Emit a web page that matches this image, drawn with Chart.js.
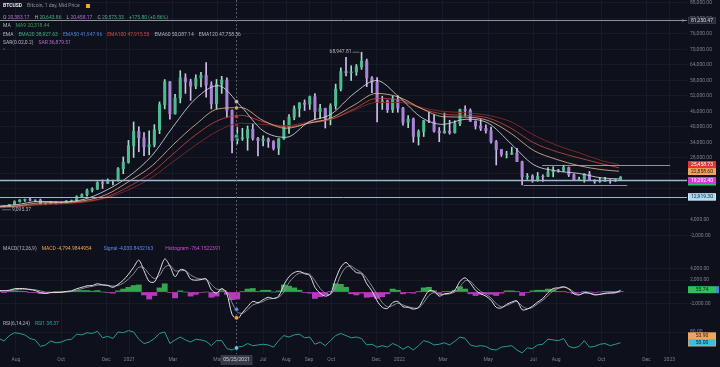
<!DOCTYPE html>
<html>
<head>
<meta charset="utf-8">
<script src="https://cdn.jsdelivr.net/npm/chart.js@4.4.0/dist/chart.umd.min.js"></script>
<style>
html,body{margin:0;padding:0;background:#0e101b;}
#wrap{position:relative;width:720px;height:367px;overflow:hidden;background:#0e101b;font-family:Roboto,"Noto Sans",sans-serif;}
canvas{position:absolute;left:0;}
.lg{position:absolute;left:3px;font-size:5px;line-height:6px;color:#b2b5be;white-space:nowrap;}
.lg span{margin-right:5px;}
.lg em{font-style:normal;}
.sq{display:inline-block;width:4px;height:4px;background:#f5a623;vertical-align:middle;margin-left:1px;}
</style>
</head>
<body>
<div id="wrap">
  <canvas id="cPrice" width="720" height="242" style="top:0"></canvas>
  <canvas id="cMacd" width="720" height="79" style="top:242px"></canvas>
  <canvas id="cRsi" width="720" height="46" style="top:321px"></canvas>

  <div class="lg" style="top:2px"><span style="color:#e6e8ee;font-weight:bold">BTCUSD</span><span style="color:#8d919c">Bitcoin, 1 day, Mid Price</span><i class="sq"></i></div>
  <div class="lg" style="top:14px"><span>O <em style="color:#b46ad8">20,383.17</em></span><span>H <em style="color:#3fb27f">20,643.86</em></span><span>L <em style="color:#b46ad8">20,458.17</em></span><span>C <em style="color:#3fb27f">20,573.33</em></span><span style="color:#3fb27f">+175.80 (+0.86%)</span></div>
  <div class="lg" style="top:22px"><span>MA</span><span style="color:#3a9a5c">MA9 20,318.44</span></div>
  <div class="lg" style="top:31px"><span>EMA</span><span style="color:#3fb27f">EMA20 38,927.63</span><span style="color:#4f7fd6">EMA50 41,947.96</span><span style="color:#d04a4a">EMA100 47,915.55</span><span>EMA60 50,087.14</span><span>EMA120 47,758.36</span></div>
  <div class="lg" style="top:39px"><span>SAR(0.02,0.2)</span><span style="color:#b46ad8">SAR 36,879.51</span></div>
  <div class="lg" style="top:47px;color:#6d717c">^</div>

  <div class="lg" style="top:245px"><span>MACD(12,26,9)</span><span style="color:#f0a050;margin-right:12px">MACD -4,794.9844954</span><span style="color:#5b8def;margin-right:12px">Signal -4,030.8432163</span><span style="color:#c94fd0">Histogram -764.1522391</span></div>
  <div class="lg" style="top:320px"><span>RSI(6,14,24)</span><span style="color:#29a59f">RSI1 38.37</span></div>
</div>

<script>
// ---- data (weekly candles, Monday starts) ----
const firstWeek = '2020-07-06';
const firstOpen = 9180;
const closes = [
  9240, 9160, 9930, 11060, 11680, 11910, 11650, 11700, 10250, 10330, 10920, 10770, 10670, 11380, 11500, 13030, 13780, 15480, 15960, 18400, 18180, 19150, 19260, 23850, 26300, 32800,
  38300, 35800, 32300, 33100, 38900, 48600, 57500, 45100, 51200, 59000, 57500, 55800, 58900, 60000, 56200, 49000, 56600, 58200, 46400, 34700, 35500, 35800, 39100, 35600, 34700, 35300, 34300, 31800, 35400, 39900, 43800, 47100, 49300, 48800, 51700, 46000, 47200, 43200, 48200, 54700, 61500, 61000, 61300, 63300, 65500, 59000, 57300, 49400, 50100, 46700, 50800, 47300,
  41800, 43100, 36300, 38200, 42400, 42200, 38400, 37700, 38400, 37800, 41300, 46800, 46400, 42200, 40400, 39500, 38500, 34300, 31300, 29400, 29500, 29900, 26600, 20600, 21000, 19300, 20900, 20800, 22600, 23300, 23200, 24300, 21500, 19600, 19800, 21800, 19400, 18900, 19000, 19400, 19200, 19600, 20573.33
];
const highs = [
  9440, 9380, 9960, 11420, 11900, 12080, 12480, 11800, 12090, 10590, 11170, 10980, 10950, 11500, 11730, 13350, 14100, 15960, 16480, 18800, 19480, 19900, 19420, 24300, 28400, 34800,
  41950, 40100, 37850, 38500, 40900, 49700, 58350, 57600, 52600, 61800, 60600, 58500, 60200, 61200, 64900, 57500, 58400, 59600, 59000, 46600, 40900, 39500, 40400, 41300, 36000, 36600, 35800, 34700, 35500, 42500, 44800, 48200, 49400, 50500, 52000, 52900, 48800, 47300, 49000, 56600, 62900, 67000, 63700, 64200, 68947.81, 66300, 59500, 59100, 51900, 50400, 52000, 52100,
  47600, 44400, 43500, 38900, 42600, 45800, 44800, 39800, 45400, 42600, 42400, 46900, 48200, 47000, 42400, 42900, 40800, 40000, 34800, 31300, 30600, 32200, 31700, 26800, 22000, 21500, 22400, 21500, 24300, 24600, 23600, 25200, 24500, 21900, 20600, 21900, 22800, 19600, 20400, 20500, 19700, 19700, 20800
];
const lows = [
  9095.37, 9120, 9160, 9900, 10950, 11140, 11390, 11120, 9960, 9880, 10200, 10140, 10370, 10530, 11200, 11420, 12980, 13200, 14810, 15800, 16200, 18100, 17600, 19000, 21900, 26000,
  28200, 30400, 28850, 29200, 32300, 37400, 47000, 43000, 45000, 49300, 53000, 50300, 54800, 55500, 51500, 47000, 47000, 53000, 43800, 30000, 33400, 34800, 31000, 34900, 28800, 32700, 32100, 31100, 29300, 35200, 37500, 42800, 43900, 46400, 46800, 42800, 43300, 39600, 40800, 46900, 54000, 59800, 58000, 60000, 62300, 55600, 53300, 42000, 46800, 45600, 45600, 45700,
  40700, 39700, 34100, 33000, 36300, 41700, 38000, 34300, 37600, 37200, 37600, 40500, 44200, 42100, 39200, 38600, 37600, 33700, 25300, 28600, 28000, 29300, 26600, 17600, 19700, 18600, 19000, 18900, 20800, 20700, 22500, 22700, 20800, 19500, 19500, 18600, 19300, 18200, 18500, 18900, 18200, 18900, 19200
];

// moving averages
const emaDates = ['2020-07-06','2020-08-01','2020-09-01','2020-10-01','2020-11-01','2020-12-01','2021-01-01','2021-02-01','2021-03-01','2021-04-01','2021-05-01','2021-06-01','2021-07-01','2021-08-01','2021-09-01','2021-10-01','2021-11-01','2021-12-01','2022-01-01','2022-02-01','2022-03-01','2022-04-01','2022-05-01','2022-06-01','2022-07-01','2022-08-01','2022-09-01','2022-10-01','2022-10-25'];
const ema50  = [9300, 9900, 11200, 11000, 12000, 15500, 21000, 29000, 40000, 51000, 56000, 48000, 38500, 36000, 42000, 45000, 53000, 58000, 51500, 43500, 41000, 43000, 41500, 33500, 25500, 23000, 22000, 20300, 19900];
const ema100 = [9100, 9400, 10600, 10800, 11500, 13800, 19000, 25000, 33000, 41000, 47000, 47500, 42500, 39500, 41500, 43500, 48500, 53000, 51500, 47000, 44000, 43800, 42500, 37500, 31000, 27500, 25000, 23500, 22858.6];
const ema150 = [8900, 9200, 10100, 10500, 11100, 12900, 17000, 22500, 29500, 37000, 42500, 44500, 42000, 40000, 41500, 43000, 47000, 51000, 50500, 47000, 45000, 44500, 43500, 39500, 34000, 30500, 28000, 25800, 24200];
const ema200 = [8700, 9000, 9800, 10200, 10900, 12500, 15800, 20500, 26500, 33000, 38500, 41500, 41000, 40500, 42000, 43000, 46500, 49500, 49500, 47500, 46000, 45500, 44500, 42000, 37000, 33000, 30000, 27000, 25458.73];

// MACD pane (weekly)
const macdLine = [
  250, 200, 300, 550, 600, 550, 400, 250, -100, -250, -100, -80, -50, 100, 200, 550, 800, 1050, 1100, 1400, 1200, 1100, 800, 1300, 2000, 3000,
  4200, 5400, 3600, 1800, 1700, 3500, 5600, 4400, 2600, 3800, 3600, 2200, 2000, 2100, 2200, 400, -200, 600, -300, -3800, -4600, -3500, -2500, -1600, -1800, -1300, -900, -1100, -700, 1200, 2600, 3300, 3500, 3100, 2800, 800, -200, -700, -300, 2200, 4200, 5000, 4100, 3300, 3100, 1400, 200, -1500, -2600, -2800, -1800, -1600,
  -2500, -2600, -2900, -2600, -1100, 200, 100, -700, -300, -200, 300, 1800, 2400, 1500, 300, -300, -700, -1400, -2600, -2700, -2100, -1700, -1500, -3000, -2900, -2400, -1700, -1100, -100, 600, 700, 900, 500, -300, -500, -100, -200, -500, -400, -200, -150, -100, 300
];
const signalLine = [
  200, 210, 240, 350, 450, 500, 460, 370, 180, -20, -100, -100, -80, 0, 100, 300, 550, 800, 950, 1150, 1200, 1150, 1000, 1100, 1500, 2200,
  3100, 4200, 4100, 3000, 2300, 2800, 4200, 4500, 3600, 3600, 3600, 2900, 2400, 2200, 2200, 1300, 500, 400, 100, -1800, -3400, -3600, -3000, -2200, -1900, -1600, -1200, -1100, -900, 0, 1600, 2600, 3200, 3200, 3000, 1900, 600, -200, -400, 800, 2900, 4200, 4400, 3800, 3300, 2300, 1000, -400, -1800, -2500, -2300, -1900,
  -2200, -2500, -2700, -2700, -1800, -600, -100, -400, -400, -300, 0, 900, 1900, 1800, 900, 100, -400, -1000, -2000, -2500, -2300, -1900, -1600, -2400, -2800, -2600, -2000, -1400, -600, 200, 600, 800, 600, 0, -400, -200, -200, -400, -400, -300, -200, -150, 50
];
const histogram = [
  50, -10, 60, 200, 150, 50, -60, -120, -280, -230, 0, 20, 30, 100, 100, 250, 250, 250, 150, 250, 0, -50, -200, 200, 500, 800,
  1100, 1200, -500, -1200, -600, 700, 1400, -100, -1000, 200, 0, -700, -400, -100, 0, -900, -700, 200, -400, -1300, -1200, 100, 500, 600, 100, 300, 300, 0, 200, 1200, 1000, 700, 300, -100, -200, -1100, -800, -500, 100, 1400, 1300, 800, -300, -500, -200, -900, -800, -1100, -800, -300, 500, 300,
  -300, -100, -200, 100, 700, 800, 200, -300, 100, 100, 300, 900, 500, -300, -600, -400, -300, -400, -600, -200, 200, 200, 100, -600, -100, 200, 300, 300, 500, 400, 100, 100, -100, -300, -100, 100, 0, -100, 0, 100, 50, 50, 55.74
];

// RSI pane (weekly)
const rsi = [
  62, 55, 70, 78, 76, 72, 62, 58, 40, 44, 55, 50, 52, 58, 60, 74, 72, 78, 76, 82, 64, 68, 62, 80, 78, 84,
  80, 60, 48, 52, 62, 76, 80, 48, 58, 66, 58, 52, 60, 58, 54, 42, 56, 56, 34, 30, 38, 40, 48, 42, 44, 46, 44, 38, 56, 70, 66, 72, 74, 64, 66, 46, 52, 42, 56, 70, 76, 70, 64, 66, 62, 44, 46, 38, 42, 38, 48, 42,
  32, 40, 30, 42, 56, 52, 44, 46, 50, 44, 54, 66, 62, 44, 40, 42, 40, 32, 30, 38, 40, 42, 30, 22, 36, 34, 44, 46, 60, 58, 56, 62, 40, 36, 40, 56, 38, 40, 46, 48, 42, 46, 50
];

// drawn levels and axis labels
const hLevels = [81250.47, 19470, 12919.30];
const hSegments = [
  {from: '2022-06-18', to: '2022-11-05', value: 17600},
  {from: '2022-07-13', to: '2023-01-02', value: 25200}
];
const priceTicks = [-2000, 4000, 10000, 16000, 22000, 28000, 34000, 40000, 46000, 52000, 58000, 64000, 70000, 76000, 82000, 88000];
const priceTicksHidden = [10000, 16000];
const macdTicks = [-2000, 0, 2000, 4000];
const rsiTicks = [80];
const tickDates = ['2020-08-01','2020-10-01','2020-12-01','2021-01-01','2021-03-01','2021-05-01','2021-07-01','2021-08-01','2021-09-01','2021-10-01','2021-12-01','2022-01-01','2022-03-01','2022-05-01','2022-07-01','2022-08-01','2022-10-01','2022-12-01','2023-01-01'];
const tickLabels = ['Aug','Oct','Dec','2021','Mar','May','Jul','Aug','Sep','Oct','Dec','2022','Mar','May','Jul','Aug','Oct','Dec','2023'];
const crossDate = '2021-05-25';
const crossLabel = '05/25/2021';

// ---- helpers ----
const FONT = 'Roboto, "Noto Sans", sans-serif';
const GRID = '#171a27';
const TXT = '#7c808b';
const UP = '#4dbb8f', DOWN = '#a983d6';
const UP_W = '#a4dcc6', DOWN_W = '#d2bdec';

const DAY0 = Date.UTC(2020, 7, 1);
function dayOf(s) {
  const p = s.split('-');
  return (Date.UTC(+p[0], p[1] - 1, +p[2]) - DAY0) / 86400000;
}
const X_MIN = -21.6, X_MAX = 906.8;
const weekX = closes.map((c, i) => dayOf(firstWeek) + 7 * i + 3);
const opens = closes.map((c, i) => i ? closes[i - 1] : firstOpen);
const emaX = emaDates.map(dayOf);
const crossDay = dayOf(crossDate);

function fmt2(v) {
  return v.toLocaleString('en-US', {minimumFractionDigits: 2, maximumFractionDigits: 2});
}
function valueAt(xs, ys, x) {
  for (let i = 1; i < xs.length; i++) {
    if (x <= xs[i]) {
      const t = (x - xs[i - 1]) / (xs[i] - xs[i - 1]);
      return ys[i - 1] + t * (ys[i] - ys[i - 1]);
    }
  }
  return ys[ys.length - 1];
}

function xScale(showLabels) {
  return {
    type: 'linear', min: X_MIN, max: X_MAX, offset: false,
    grid: {color: GRID, drawTicks: false, offset: false},
    border: {display: false},
    ticks: {display: showLabels, autoSkip: false, maxRotation: 0, color: TXT,
      font: {size: 5, family: FONT}, padding: 3,
      callback: (v, i) => tickLabels[i]},
    afterBuildTicks: s => { s.ticks = tickDates.map(d => ({value: dayOf(d)})); },
    afterFit: s => { s.height = showLabels ? 13 : 0; s.paddingLeft = 0; s.paddingRight = 0; }
  };
}
function yScale(min, max, ticks, hidden) {
  return {
    position: 'right', min: min, max: max,
    grid: {color: GRID, drawTicks: false},
    border: {display: false},
    ticks: {color: TXT, font: {size: 5, family: FONT}, padding: 3,
      callback: v => (hidden && hidden.includes(v)) ? '' : fmt2(v)},
    afterBuildTicks: s => { s.ticks = ticks.map(v => ({value: v})); },
    afterFit: s => { s.width = 33; s.paddingTop = 0; s.paddingBottom = 0; }
  };
}

function sideBox(ctx, yc, text, bg, fg, border) {
  const x = 688, w = 28, h = 7;
  ctx.fillStyle = bg;
  ctx.fillRect(x, yc - h / 2, w, h);
  if (border) {
    ctx.strokeStyle = border; ctx.lineWidth = 0.7;
    ctx.strokeRect(x + 0.35, yc - h / 2 + 0.35, w - 0.7, h - 0.7);
  }
  if (text) {
    ctx.fillStyle = fg;
    ctx.font = '5px ' + FONT;
    ctx.textAlign = 'center'; ctx.textBaseline = 'middle';
    ctx.fillText(text, x + w / 2, yc + 0.3);
  }
}
function crossLine(chart) {
  const ctx = chart.ctx, a = chart.chartArea;
  const x = Math.round(chart.scales.x.getPixelForValue(crossDay)) + 0.5;
  ctx.save();
  ctx.setLineDash([2, 2]);
  ctx.strokeStyle = '#565a66'; ctx.lineWidth = 1;
  ctx.beginPath(); ctx.moveTo(x, 0); ctx.lineTo(x, a.bottom); ctx.stroke();
  ctx.restore();
  return x;
}
function dot(ctx, x, y, color) {
  ctx.beginPath();
  ctx.arc(x, y, 2.2, 0, Math.PI * 2);
  ctx.fillStyle = color; ctx.fill();
  ctx.lineWidth = 0.6; ctx.strokeStyle = '#0e101b'; ctx.stroke();
}

const commonOpts = {
  responsive: false, maintainAspectRatio: false, animation: false, devicePixelRatio: 1,
  layout: {padding: 0},
  plugins: {legend: {display: false}, tooltip: {enabled: false}},
  events: []
};

// ---- price pane ----
const emaStyles = [
  {data: ema50, color: 'rgba(214,214,218,0.85)'},
  {data: ema100, color: 'rgba(220,180,138,0.85)'},
  {data: ema150, color: 'rgba(196,70,63,0.85)'},
  {data: ema200, color: 'rgba(127,44,44,0.9)'}
];

const priceOverlay = {
  id: 'priceOverlay',
  afterDraw(chart) {
    const ctx = chart.ctx, a = chart.chartArea, xs = chart.scales.x, ys = chart.scales.y;
    ctx.save();
    // horizontal levels
    hLevels.forEach((v, i) => {
      const y = Math.round(ys.getPixelForValue(v)) + 0.5;
      ctx.strokeStyle = i === 0 ? '#8d929d' : '#9db8cf';
      ctx.lineWidth = i === 1 ? 1.6 : 1;
      ctx.beginPath(); ctx.moveTo(a.left, y); ctx.lineTo(a.right, y); ctx.stroke();
    });
    hSegments.forEach(s => {
      const y = Math.round(ys.getPixelForValue(s.value)) + 0.5;
      ctx.strokeStyle = '#aeb4c0'; ctx.lineWidth = 0.8;
      ctx.beginPath();
      ctx.moveTo(xs.getPixelForValue(dayOf(s.from)), y);
      ctx.lineTo(Math.min(a.right, xs.getPixelForValue(dayOf(s.to))), y);
      ctx.stroke();
    });
    // high / low marks
    ctx.font = '5px ' + FONT; ctx.textBaseline = 'middle';
    const hi = highs.indexOf(Math.max(...highs));
    const lo = lows.indexOf(Math.min(...lows));
    let px = xs.getPixelForValue(weekX[hi]), py = ys.getPixelForValue(highs[hi]);
    ctx.strokeStyle = '#8d929d'; ctx.lineWidth = 0.7;
    ctx.beginPath(); ctx.moveTo(px - 2, py); ctx.lineTo(px - 9, py); ctx.stroke();
    ctx.fillStyle = '#b2b5be'; ctx.textAlign = 'right';
    ctx.fillText(fmt2(highs[hi]), px - 10, py);
    px = xs.getPixelForValue(weekX[lo]); py = ys.getPixelForValue(lows[lo]) + 3;
    ctx.beginPath(); ctx.moveTo(px + 3, py); ctx.lineTo(px + 12, py); ctx.stroke();
    ctx.textAlign = 'left';
    ctx.fillText(fmt2(lows[lo]), px + 13, py);
    // crosshair
    const cx = crossLine(chart);
    emaStyles.forEach(e => dot(ctx, cx, ys.getPixelForValue(valueAt(emaX, e.data, crossDay)), e.color));
    dot(ctx, cx, ys.getPixelForValue(valueAt(weekX, closes, crossDay)) - 3, '#3fb27f');
    // axis labels
    const topY = ys.getPixelForValue(hLevels[0]);
    sideBox(ctx, topY, fmt2(hLevels[0]), '#262a36', '#d1d4dc', '#3a3f4c');
    ctx.fillStyle = '#9aa0ab'; ctx.textAlign = 'center'; ctx.font = '6px ' + FONT;
    ctx.fillText('+', 683, topY);
    const labeled = [
      {v: ema200[ema200.length - 1], bg: '#e0353d', fg: '#ffffff'},
      {v: ema100[ema100.length - 1], bg: '#f0a35c', fg: '#2a1a0c'},
      {v: 19292.40, bg: '#d23ad8', fg: '#ffffff'}
    ];
    sideBox(ctx, ys.getPixelForValue(18700), '', '#2fbf5b', '#fff');
    let prev = -100;
    labeled.forEach(b => {
      const yc = Math.max(ys.getPixelForValue(b.v), prev + 7);
      prev = yc;
      sideBox(ctx, yc, fmt2(b.v), b.bg, b.fg);
    });
    sideBox(ctx, ys.getPixelForValue(hLevels[2]), fmt2(hLevels[2]), '#a6d8f2', '#1a2233', '#e2f4ff');
    ctx.restore();
  }
};

new Chart(document.getElementById('cPrice'), {
  type: 'bar',
  data: {
    datasets: [
      ...emaStyles.map(e => ({
        type: 'line', data: e.data.map((v, i) => ({x: emaX[i], y: v})),
        borderColor: e.color, borderWidth: 1, pointRadius: 0, tension: 0.4,
        cubicInterpolationMode: 'monotone'
      })),
      {
        type: 'bar', grouped: false, categoryPercentage: 1, barPercentage: 1, maxBarThickness: 2.4,
        data: closes.map((c, i) => ({x: weekX[i], y: [opens[i], c]})),
        backgroundColor: closes.map((c, i) => c >= opens[i] ? UP : DOWN),
        borderWidth: 0
      },
      {
        type: 'bar', grouped: false, categoryPercentage: 1, barPercentage: 1, maxBarThickness: 1,
        data: highs.map((h, i) => ({x: weekX[i], y: [lows[i], h]})),
        backgroundColor: closes.map((c, i) => c >= opens[i] ? UP_W : DOWN_W),
        borderWidth: 0
      }
    ]
  },
  options: Object.assign({}, commonOpts, {
    scales: {x: xScale(false), y: yScale(-4530, 89160, priceTicks, priceTicksHidden)}
  }),
  plugins: [priceOverlay]
});

// ---- MACD pane ----
const macdOverlay = {
  id: 'macdOverlay',
  afterDraw(chart) {
    const ctx = chart.ctx, ys = chart.scales.y;
    ctx.save();
    const cx = crossLine(chart);
    dot(ctx, cx, ys.getPixelForValue(valueAt(weekX, signalLine, crossDay)), '#5b8def');
    dot(ctx, cx, ys.getPixelForValue(valueAt(weekX, macdLine, crossDay)), '#f0a050');
    const last = histogram[histogram.length - 1];
    const yc = ys.getPixelForValue(last) - 2;
    sideBox(ctx, yc, fmt2(last), '#2fbf5b', '#0d2a14');
    ctx.fillStyle = '#4f7fd6';
    ctx.fillRect(716, yc - 3.5, 3, 7);
    ctx.restore();
  }
};
new Chart(document.getElementById('cMacd'), {
  type: 'bar',
  data: {
    datasets: [
      {type: 'line', data: macdLine.map((v, i) => ({x: weekX[i], y: v})), borderColor: '#e2e2e6',
        borderWidth: 1, pointRadius: 0, tension: 0.3},
      {type: 'line', data: signalLine.map((v, i) => ({x: weekX[i], y: v})), borderColor: '#8f8a96',
        borderWidth: 1, pointRadius: 0, tension: 0.3},
      {type: 'bar', grouped: false, categoryPercentage: 1, barPercentage: 1,
        data: histogram.map((v, i) => ({x: weekX[i], y: v})),
        backgroundColor: histogram.map(v => v >= 0 ? '#35a552' : '#b838c0'), borderWidth: 0}
    ]
  },
  options: Object.assign({}, commonOpts, {
    scales: {x: xScale(false), y: yScale(-4915, 8475, macdTicks)}
  }),
  plugins: [macdOverlay]
});

// ---- RSI pane ----
const rsiOverlay = {
  id: 'rsiOverlay',
  afterDraw(chart) {
    const ctx = chart.ctx, ys = chart.scales.y, a = chart.chartArea;
    ctx.save();
    const cx = crossLine(chart);
    dot(ctx, cx, ys.getPixelForValue(valueAt(weekX, rsi, crossDay)), '#5fd3e0');
    const last = rsi[rsi.length - 1];
    const yc = ys.getPixelForValue(last);
    sideBox(ctx, yc - 7, fmt2(last + 3.9), '#f0a35c', '#2a1a0c');
    sideBox(ctx, yc, fmt2(last), '#3bbfe0', '#0c2230', '#f0a35c');
    // crosshair date label on the time axis
    ctx.fillStyle = '#363a46';
    ctx.fillRect(cx - 16, a.bottom + 1, 32, 10);
    ctx.fillStyle = '#d1d4dc'; ctx.font = '5px ' + FONT;
    ctx.textAlign = 'center'; ctx.textBaseline = 'middle';
    ctx.fillText(crossLabel, cx, a.bottom + 6);
    ctx.restore();
  }
};
new Chart(document.getElementById('cRsi'), {
  type: 'line',
  data: {
    datasets: [
      {data: rsi.map((v, i) => ({x: weekX[i], y: v})), borderColor: '#2a9d96', borderWidth: 1,
        pointRadius: 0, tension: 0}
    ]
  },
  options: Object.assign({}, commonOpts, {
    scales: {x: xScale(true), y: yScale(18.9, 110.6, rsiTicks)}
  }),
  plugins: [rsiOverlay]
});
</script>
</body>
</html>
